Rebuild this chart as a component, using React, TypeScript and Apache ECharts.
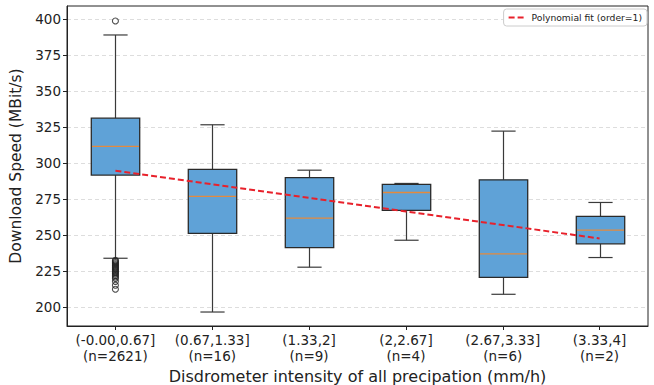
import React, { useEffect, useRef } from "react";
import * as echarts from "echarts";

const categories = ["(-0.00,0.67]", "(0.67,1.33]", "(1.33,2]", "(2,2.67]", "(2.67,3.33]", "(3.33,4]"];
const counts = [2621, 16, 9, 4, 6, 2];
// [whiskerLow, q1, median, q3, whiskerHigh]
const boxStats = [
  [234.0, 291.7, 311.6, 331.2, 388.9],
  [196.7, 251.2, 276.9, 295.6, 326.6],
  [227.8, 241.4, 261.8, 290.0, 295.1],
  [246.5, 267.2, 279.6, 285.2, 285.9],
  [209.0, 220.8, 237.0, 288.4, 322.2],
  [234.5, 244.0, 253.5, 263.0, 272.7],
];
const outliersBox0 = [398.6, 232.6, 231.8, 231.0, 230.2, 229.4, 228.6, 227.8, 227.0, 226.2, 225.4, 224.6, 223.8, 223.0, 222.0, 221.0, 220.0, 218.0, 215.3, 212.5];
const fitValues = [294.7, 285.3, 275.9, 266.5, 257.1, 247.7];
const yTicks = [200, 225, 250, 275, 300, 325, 350, 375, 400];

const FONT = "DejaVu Sans";

export default function App() {
  const ref = useRef<HTMLDivElement>(null);
  useEffect(() => {
    if (!ref.current) return;
    const chart = echarts.init(ref.current, null, { renderer: "svg" });
    const boxData = boxStats.map((s, i) => [i, ...s]);
    chart.setOption({
      animation: false,
      backgroundColor: "#ffffff",
      grid: {
        left: 67,
        right: 6,
        top: 6,
        bottom: 59,
        outerBoundsMode: "none",
        containLabel: false,
        show: true,
        borderColor: "#222222",
        borderWidth: 1,
        backgroundColor: "transparent",
      },
      legend: {
        top: 9,
        right: 7,
        backgroundColor: "#ffffff",
        borderColor: "#cccccc",
        borderWidth: 1,
        borderRadius: 3,
        padding: [4, 5, 4, 5],
        icon: "path://M0,0H6V2H0Z M9,0H15V2H9Z",
        itemWidth: 15,
        itemHeight: 2,
        itemGap: 4,
        textStyle: { fontFamily: FONT, fontSize: 9.2, color: "#222", padding: [0, 0, 0, 3] },
        data: ["Polynomial fit (order=1)"],
      },
      xAxis: {
        type: "category",
        data: categories,
        boundaryGap: true,
        name: "Disdrometer intensity of all precipation (mm/h)",
        nameLocation: "middle",
        nameGap: 31,
        nameTextStyle: { fontFamily: FONT, fontSize: 16, color: "#222" },
        axisLine: { show: true, lineStyle: { color: "#222", width: 1 } },
        axisTick: { show: true, alignWithLabel: true, length: 4, lineStyle: { color: "#222" } },
        axisLabel: {
          fontFamily: FONT,
          fontSize: 13.5,
          color: "#222",
          lineHeight: 16,
          margin: 6,
          interval: 0,
          formatter: (v: string, i: number) => `${v}\n(n=${counts[i]})`,
        },
        splitLine: { show: false },
      },
      yAxis: {
        type: "value",
        min: 187,
        max: 409,
        name: "Download Speed (MBit/s)",
        nameLocation: "middle",
        nameGap: 35,
        nameTextStyle: { fontFamily: FONT, fontSize: 15.5, color: "#222" },
        axisLine: { show: true, lineStyle: { color: "#222", width: 1 } },
        axisTick: { show: true, length: 4, customValues: yTicks, lineStyle: { color: "#222" } },
        axisLabel: {
          fontFamily: FONT,
          fontSize: 13.5,
          color: "#222",
          margin: 6,
          customValues: yTicks,
          formatter: (v: number) => String(v),
        },
        splitLine: { show: true, lineStyle: { color: "#d4d4d4", type: [4, 3], width: 0.8 } },
      },
      series: [
        {
          type: "custom",
          name: "boxes",
          data: boxData,
          z: 2,
          encode: { x: 0, y: [1, 2, 3, 4, 5] },
          renderItem: (params: any, api: any) => {
            const idx = api.value(0);
            const lo = api.coord([idx, api.value(1)]);
            const q1 = api.coord([idx, api.value(2)]);
            const med = api.coord([idx, api.value(3)]);
            const q3 = api.coord([idx, api.value(4)]);
            const hi = api.coord([idx, api.value(5)]);
            const band = api.size([1, 0])[0];
            const bw = band * 0.5;
            const cw = band * 0.25;
            const cx = Math.round(lo[0]) + 0.5;
            const wStyle = { stroke: "#3a3a3a", lineWidth: 1.2 };
            return {
              type: "group",
              children: [
                { type: "line", shape: { x1: cx, y1: hi[1], x2: cx, y2: q3[1] }, style: wStyle },
                { type: "line", shape: { x1: cx, y1: lo[1], x2: cx, y2: q1[1] }, style: wStyle },
                { type: "line", shape: { x1: cx - cw / 2, y1: hi[1], x2: cx + cw / 2, y2: hi[1] }, style: wStyle },
                { type: "line", shape: { x1: cx - cw / 2, y1: lo[1], x2: cx + cw / 2, y2: lo[1] }, style: wStyle },
                {
                  type: "rect",
                  shape: { x: cx - bw / 2, y: q3[1], width: bw, height: q1[1] - q3[1] },
                  style: { fill: "#5fa2d7", stroke: "#2a2a2a", lineWidth: 1.3 },
                },
                {
                  type: "line",
                  shape: { x1: cx - bw / 2 + 0.7, y1: med[1], x2: cx + bw / 2 - 0.7, y2: med[1] },
                  style: { stroke: "#e48a3e", lineWidth: 1.3 },
                },
              ],
            };
          },
        },
        {
          type: "scatter",
          name: "outliers",
          data: outliersBox0.map((v) => [0, v]),
          symbol: "circle",
          symbolSize: 6,
          z: 3,
          itemStyle: { color: "rgba(255,255,255,0)", borderColor: "#222222", borderWidth: 1.1 },
        },
        {
          type: "line",
          name: "Polynomial fit (order=1)",
          data: fitValues,
          symbol: "none",
          z: 5,
          color: "#e8212b",
          lineStyle: { color: "#e8212b", width: 2, type: [6, 3] },
        },
      ],
    });
    return () => chart.dispose();
  }, []);
  return <div ref={ref} style={{ position: "fixed", left: 0, top: 0, width: 654, height: 385 }} />;
}
